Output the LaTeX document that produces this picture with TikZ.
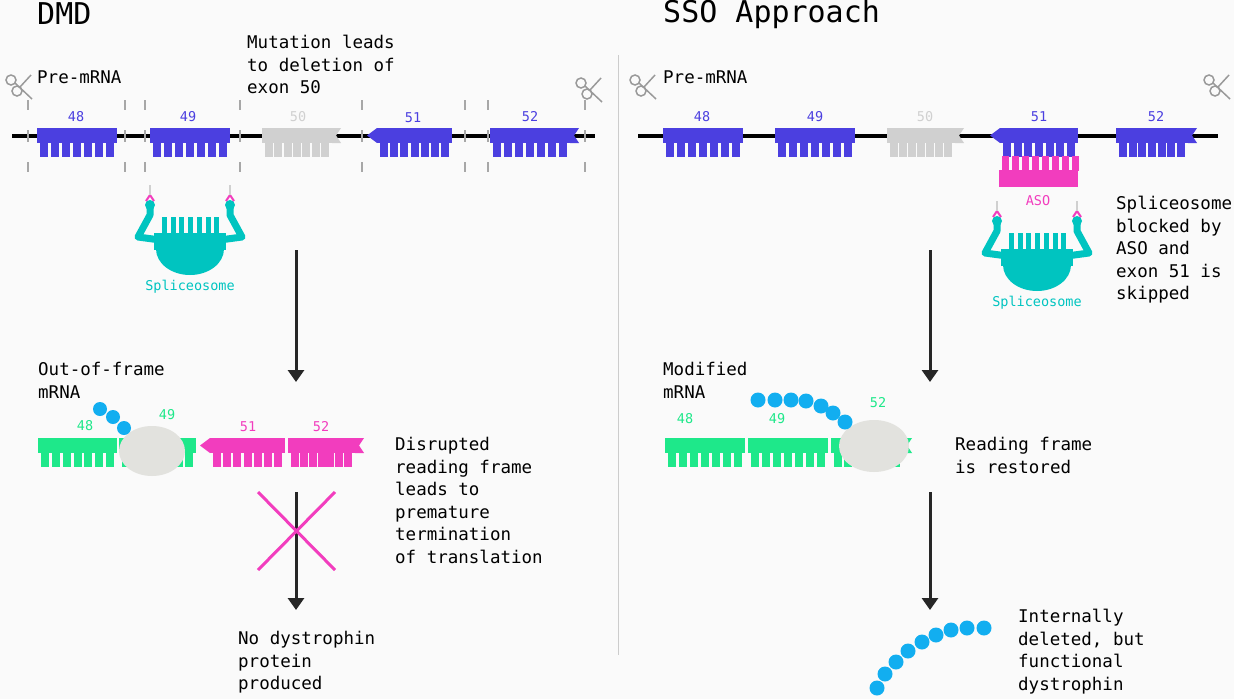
\documentclass[tikz,border=0pt]{standalone}
\usepackage{fontspec}
\setmonofont{DejaVu Sans Mono}
\usetikzlibrary{arrows.meta}
\tikzset{>=Latex}
\definecolor{exblue}{HTML}{4B3FE0}
\definecolor{exgray}{HTML}{D0D0D0}
\definecolor{exgreen}{HTML}{1EE88A}
\definecolor{exmag}{HTML}{F23DBE}
\definecolor{teal}{HTML}{00C4C0}
\definecolor{bead}{HTML}{12AEF0}
\definecolor{ribo}{HTML}{E2E2DE}
\tikzset{
  txt/.style={anchor=north west,align=left,inner sep=0pt,font=\ttfamily\fontsize{17.5}{22.5}\selectfont},
  title/.style={anchor=west,inner sep=0pt,font=\ttfamily\fontsize{30}{34}\selectfont},
  num/.style={inner sep=0pt,font=\ttfamily\fontsize{13.5}{15}\selectfont},
  flow/.style={->,line width=3pt,black!85,>={Triangle[width=16pt,length=12pt]}},
  tick/.style={exgray!80!black,line width=2.5pt},
}
% exon: x1, x2, top y, colour
\newcommand\exon[4]{%
  \fill[#4] (#1,#3) rectangle (#2,#3+15);
  \pgfmathsetmacro\stp{(#2-#1-14)/6}
  \foreach \i in {0,...,6}
    \fill[#4] ({#1+3+\i*\stp},#3+14) rectangle ++(8,15);
}
\newcommand\ptleft[3]{\fill[#3] (#1,#2) -- (#1-10,#2+7.5) -- (#1,#2+15) -- cycle;}
\newcommand\notchright[3]{\fill[#3] (#1,#2) -- (#1+9,#2) -- (#1+4,#2+7.5) -- (#1+9,#2+15) -- (#1,#2+15) -- cycle;}
% spliceosome centred at x, top y
\newcommand\splice[2]{%
  \begin{scope}[shift={(#1,#2)}]
    \draw[teal,line width=7pt,line join=round] (-30,45) -- (-52,42) -- (-40,20) -- (-40,10);
    \draw[teal,line width=7pt,line join=round] (30,45) -- (52,42) -- (40,20) -- (40,10);
    \fill[teal] (-36,38) rectangle (36,55);
    \fill[teal] (-34,54) arc[start angle=180,end angle=0,x radius=34,y radius=26] -- cycle;
    \foreach \i in {0,...,6} \fill[teal] (-28+\i*8.7,22) rectangle ++(5,17);
    \fill[teal] (-40,10) circle (5) (40,10) circle (5);
    \draw[exmag,line width=2pt] (-44,6) -- (-40,0) -- (-36,6) (44,6) -- (40,0) -- (36,6);
    \draw[exgray,line width=1.5pt] (-40,0) -- (-40,-10) (40,0) -- (40,-10);
  \end{scope}}
\newcommand\scissors[2]{%
  \begin{scope}[shift={(#1,#2)}]
    \draw[gray!80,line width=1.5pt] (-9,-5) circle (5) (-3,6) circle (5);
    \draw[gray!80,line width=1.5pt] (-5,-2) -- (12,14) (0,2) -- (11,-10);
  \end{scope}}
\begin{document}
\begin{tikzpicture}[x=1pt,y=-1pt]
\fill[black!2] (0,0) rectangle (1234,699);
\useasboundingbox (0,0) rectangle (1234,699);
\draw[black!20,line width=1pt] (618,55) -- (618,655);

% TITLES AND TEXT
\node[title] (tdmd) at (37,14) {DMD};
\node[title] (tsso) at (663,14) {SSO Approach};
\node[txt] (preL) at (37,71) {Pre-mRNA};
\node[txt] (preR) at (663,71) {Pre-mRNA};
\node[txt] (mut) at (247,35) {Mutation leads\\to deletion of\\exon 50};
\node[txt] (outf) at (38,362) {Out-of-frame\\mRNA};
\node[txt] (disr) at (395,437) {Disrupted\\reading frame\\leads to\\premature\\termination\\of translation};
\node[txt] (nody) at (238,631) {No dystrophin\\protein\\produced};
\node[txt] (block) at (1116,196) {Spliceosome\\blocked by\\ASO and\\exon 51 is\\skipped};
\node[txt] (modm) at (663,362) {Modified\\mRNA};
\node[txt] (rest) at (955,437) {Reading frame\\is restored};
\node[txt] (intd) at (1018,609) {Internally\\deleted, but\\functional\\dystrophin};

\scissors{20}{85}\scissors{590}{88}\scissors{644}{85}\scissors{1218}{85}

% PRE-MRNA LEFT
\draw[line width=4.5pt] (12,136) -- (595,136);
\foreach \x in {28,125,145,240,362,465,488,585}
  \draw[tick] (\x,100) -- (\x,110) (\x,130) -- (\x,142) (\x,162) -- (\x,172);
\exon{37}{117}{128}{exblue}
\exon{150}{230}{128}{exblue}
\exon{262}{332}{128}{exgray}\notchright{332}{128}{exgray}
\exon{377}{452}{128}{exblue}\ptleft{377}{128}{exblue}
\exon{490}{570}{128}{exblue}\notchright{570}{128}{exblue}
\node[num,exblue] (l48) at (76,117) {48};
\node[num,exblue] (l49) at (188,117) {49};
\node[num,exgray] (l50) at (298,117) {50};
\node[num,exblue] (l51) at (413,118) {51};
\node[num,exblue] (l52) at (530,117) {52};
\splice{190}{195}
\node[num,teal] (spL) at (190,287) {Spliceosome};

% PRE-MRNA RIGHT
\draw[line width=4.5pt] (638,136) -- (1218,136);
\exon{663}{743}{128}{exblue}
\exon{775}{855}{128}{exblue}
\exon{887}{955}{128}{exgray}\notchright{955}{128}{exgray}
\exon{1000}{1078}{128}{exblue}\ptleft{1000}{128}{exblue}
\exon{1116}{1188}{128}{exblue}\notchright{1188}{128}{exblue}
\node[num,exblue] (r48) at (702,117) {48};
\node[num,exblue] (r49) at (815,117) {49};
\node[num,exgray] (r50) at (925,117) {50};
\node[num,exblue] (r51) at (1039,117) {51};
\node[num,exblue] (r52) at (1156,117) {52};
\fill[exmag] (999,170) rectangle (1078,187);
\foreach \i in {0,...,7} \fill[exmag] (1002+\i*10,156) rectangle ++(7,15);
\node[num,exmag] (aso) at (1038,201) {ASO};
\splice{1037}{211}
\node[num,teal] (spR) at (1037,303) {Spliceosome};

% ARROWS
\coordinate (a1) at (296,250); \coordinate (a2) at (296,382);
\coordinate (a3) at (296,492); \coordinate (a4) at (296,610);
\coordinate (b1) at (930,250); \coordinate (b2) at (930,382);
\coordinate (b3) at (930,492); \coordinate (b4) at (930,610);
\draw[flow] (a1) -- (a2); \draw[flow] (a3) -- (a4);
\draw[flow] (b1) -- (b2); \draw[flow] (b3) -- (b4);
\draw[exmag,line width=3pt] (258,492) -- (335,570) (335,492) -- (258,570);

% MRNA LEFT
\exon{38}{117}{438}{exgreen}
\exon{119}{196}{438}{exgreen}
\exon{210}{285}{438}{exmag}\ptleft{210}{438}{exmag}
\exon{288}{355}{438}{exmag}\notchright{355}{438}{exmag}
\fill[ribo] (152,451) ellipse (33 and 25);
\foreach \x/\y in {100/409,113/417,124/428} \fill[bead] (\x,\y) circle (7);
\node[num,exgreen] (m48) at (85,426) {48};
\node[num,exgreen] (m49) at (167,415) {49};
\node[num,exmag] (m51) at (248,427) {51};
\node[num,exmag] (m52) at (321,427) {52};

% MRNA RIGHT
\exon{665}{745}{438}{exgreen}
\exon{748}{828}{438}{exgreen}
\exon{831}{903}{438}{exgreen}\notchright{903}{438}{exgreen}
\fill[ribo] (874,446) ellipse (35 and 26);
\foreach \x/\y in {758/400,775/400,791/400,806/401,821/406,833/413,845/422} \fill[bead] (\x,\y) circle (7.5);
\node[num,exgreen] (n48) at (685,419) {48};
\node[num,exgreen] (n49) at (777,419) {49};
\node[num,exgreen] (n52) at (878,403) {52};

% PROTEIN
\foreach \x/\y in {877/688,885/674,896/662,908/651,922/642,936/635,951/630,967/628,984/628}
  \fill[bead] (\x,\y) circle (7.5);
\end{tikzpicture}
\end{document}
